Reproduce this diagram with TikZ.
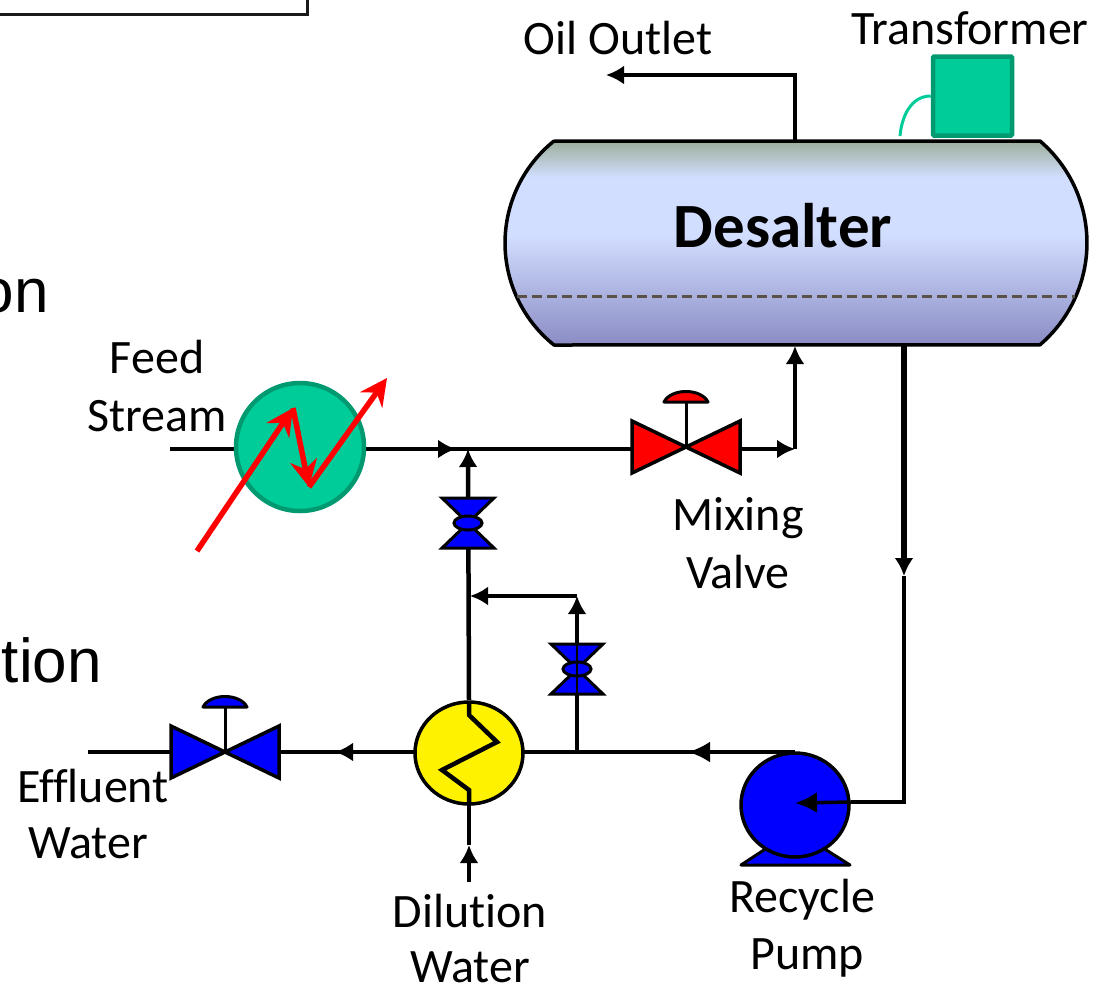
\documentclass[tikz,border=0pt]{standalone}
\usepackage{xcolor}
\usepackage{fontspec}
\setmainfont[RawFeature={-liga}]{Carlito}
\newfontfamily\leftfont{Liberation Sans}
\usetikzlibrary{arrows.meta, shapes.geometric}
\definecolor{hxgreen}{HTML}{00CC99}
\definecolor{hxedge}{HTML}{009970}
\definecolor{vesselbot}{HTML}{8A8CC4}
\definecolor{vessellight}{HTML}{D2DEFF}
\definecolor{vesseltop}{HTML}{9CAF9C}
\definecolor{levelgray}{HTML}{5A5248}
\pgfdeclareverticalshading{vesselshade}{100bp}{
  color(0bp)=(vesselbot);
  color(25bp)=(vesselbot);
  color(52bp)=(vessellight);
  color(66bp)=(vessellight);
  color(75bp)=(vesseltop);
  color(100bp)=(vesseltop)}
\def\vesselpath{(554,141) -- (1040,141) arc[start angle=49.5, end angle=-49.5, radius=134pt] -- (554,345) arc[start angle=231.3, end angle=128.7, radius=130.7pt] -- cycle}
\tikzset{
  >={Latex[length=18pt,width=19pt]},
  pipe/.style={line width=4.5pt, black},
  thinpipe/.style={line width=3.5pt, black},
  redflow/.style={line width=5.5pt, red, -{Stealth[length=27pt,width=27pt,inset=9pt]}},
  label/.style={font=\fontsize{48}{56}\selectfont, inner sep=0pt, anchor=base},
  cut/.style={font=\leftfont\fontsize{62}{70}\selectfont, inner sep=0pt, anchor=base east},
  vessel/.style={line width=3.5pt, draw=black, line join=round},
}

\begin{document}
\begin{tikzpicture}[x=1pt, y=-1pt]
  \useasboundingbox (0,0) rectangle (1109,989);
  \clip (0,0) rectangle (1109,989);

  % Slide remains
  \draw[line width=3pt, black!90] (-5,14) -- (307,14) -- (307,-5);
  \node[cut] (slidea) at (49,312) {on};
  \node[cut] (slideb) at (102,682) {tion};

  % Junctions
  \coordinate (feedin) at (170,449);
  \coordinate (tee) at (468,449);
  \coordinate (feedtip) at (456,449);
  \coordinate (mixout) at (795,449);
  \coordinate (vesselin) at (795,346);
  \coordinate (oilup) at (795,141);
  \coordinate (oilcorner) at (795,75);
  \coordinate (oilend) at (606,75);
  \coordinate (recycletop) at (904,345);
  \coordinate (recyclemid) at (904,576);
  \coordinate (recyclelow) at (904,802);
  \coordinate (bypassbase) at (577,752);
  \coordinate (bypasstop) at (577,596);
  \coordinate (bypassend) at (470,596);
  \coordinate (dilin) at (469,882);
  \coordinate (effout) at (88,752);

  % Desalter
  \shade[shading=vesselshade] \vesselpath;
  \draw[vessel] \vesselpath;
  \draw[line width=3pt, levelgray, dash pattern=on 10pt off 5pt] (517,296) -- (1075,296);
  \node[font=\bfseries\fontsize{63}{70}\selectfont, inner sep=0pt, anchor=base] (desalter) at (783,247) {Desalter};

  % Transformer
  \node[draw=hxedge, fill=hxgreen, line width=4.5pt, minimum size=79pt, inner sep=0pt, rounded corners=1pt] (transformer) at (972.5,96) {};
  \coordinate (lug) at (900,136);
  \draw[line width=3pt, hxgreen] (lug) to[out=85, in=180] (transformer.west);

  % Oil line
  \draw[thinpipe, ->] (oilup) -- (oilcorner) -- (oilend);

  % Feed line
  \draw[pipe] (feedin) -- (300,449);
  \draw[thinpipe] (300,449) -- (tee) -- (632,449);
  \draw[thinpipe, ->] (366,449) -- (feedtip);
  \draw[thinpipe, ->] (741,449) -- (mixout);
  \draw[thinpipe, ->] (mixout) -- (vesselin);

  % Dilution line
  \draw[pipe, ->] (469,700) -- (tee);
  \draw[thinpipe, ->] (bypassbase) -- (bypasstop);
  \draw[pipe, ->] (bypasstop) -- (bypassend);
  \draw[thinpipe] (795,752) -- (469,752);
  \draw[thinpipe, -{Latex[length=22pt,width=21pt]}] (795,752) -- (688,752);
  \draw[thinpipe] (469,752) -- (effout);
  \draw[thinpipe, ->] (469,752) -- (335,752);
  \draw[thinpipe, ->] (dilin) -- (469,845);
  \draw[thinpipe] (469,845) -- (469,805);

  % Recycle line
  \draw[line width=6.5pt, ->] (recycletop) -- (recyclemid);
  \draw[line width=4.5pt] (recyclemid) -- (recyclelow) -- (851,802);

  % Feed heater
  \node[circle, draw=hxedge, fill=hxgreen, line width=4.5pt, minimum size=128pt, inner sep=0pt] (hxfeed) at (300,447) {};
  \coordinate (heata) at (197,551);
  \coordinate (heatb) at (293,408);
  \coordinate (heatc) at (309,487);
  \coordinate (heatd) at (387,378);
  \draw[redflow] (heata) -- (heatb);
  \draw[redflow] (heatb) -- (heatc);
  \draw[redflow] (heatc) -- (heatd);

  % Water exchanger
  \node[ellipse, draw=black, fill=yellow, line width=3.5pt, minimum width=108pt, minimum height=102pt, inner sep=0pt] (hxwater) at (469,753) {};
  \draw[pipe, line join=miter] (469,702) -- (469,715) -- (497,742) -- (442,770) -- (469,790) -- (469,804);

  % Pump
  \filldraw[line width=3pt, fill=blue, line join=round] (741,865) -- (770,846) -- (820,846) -- (850,865) -- cycle;
  \node[ellipse, draw=black, fill=blue, line width=3.5pt, minimum width=108pt, minimum height=104pt, inner sep=0pt] (pump) at (795,805) {};
  \coordinate (pumpeye) at (795,803);
  \draw[thinpipe, -{Latex[length=22pt,width=21pt]}] (pump.east |- recyclelow) -- (pumpeye);

  % Control valves
  \foreach \x/\y/\c/\n in {686/447/red/mixvalve, 225/752/blue/effvalve}{
    \coordinate (\n) at (\x,\y);
    \filldraw[line width=3.5pt, fill=\c, line join=miter] (\x,\y) -- (\x-54,\y-26) -- (\x-54,\y+26) -- cycle;
    \filldraw[line width=3.5pt, fill=\c, line join=miter] (\x,\y) -- (\x+54,\y-26) -- (\x+54,\y+26) -- cycle;
    \draw[line width=3pt] (\n) -- (\x,\y-45);
    \filldraw[line width=3pt, fill=\c, line join=round] (\x-22,\y-45) .. controls (\x-15,\y-59) and (\x+15,\y-59) .. (\x+22,\y-45) -- cycle;
  }

  % Hand valves
  \foreach \x/\y/\n in {468/523/valvea, 577/669/valveb}{
    \filldraw[line width=3pt, fill=blue, line join=miter] (\x-26,\y-25) -- (\x+26,\y-25) -- (\x,\y) -- cycle;
    \filldraw[line width=3pt, fill=blue, line join=miter] (\x-26,\y+25) -- (\x+26,\y+25) -- (\x,\y) -- cycle;
    \node[ellipse, draw=black, fill=blue, line width=3pt, minimum width=28pt, minimum height=14pt, inner sep=0pt] (\n) at (\x,\y) {};
  }
  \draw[line width=2.5pt] (valveb.north |- 0,644) -- (valveb.south |- 0,695);

  % Labels
  \node[label] (oillabel) at (618,54) {Oil Outlet};
  \node[label] (translabel) at (970,44) {Transformer};
  \node[label] (feedlabel) at (157,373) {Feed};
  \node[label] (streamlabel) at (157,431) {Stream};
  \node[label] (mixlabel) at (738,530) {Mixing};
  \node[label] (valvelabel) at (738,588) {Valve};
  \node[label] (efflabel) at (93,802) {Effluent};
  \node[label] (waterlabela) at (88,858) {Water};
  \node[label] (dillabel) at (470,927) {Dilution};
  \node[label] (waterlabelb) at (470,982) {Water};
  \node[label] (reclabel) at (802,912) {Recycle};
  \node[label] (pumplabel) at (807,969) {Pump};
\end{tikzpicture}
\end{document}
